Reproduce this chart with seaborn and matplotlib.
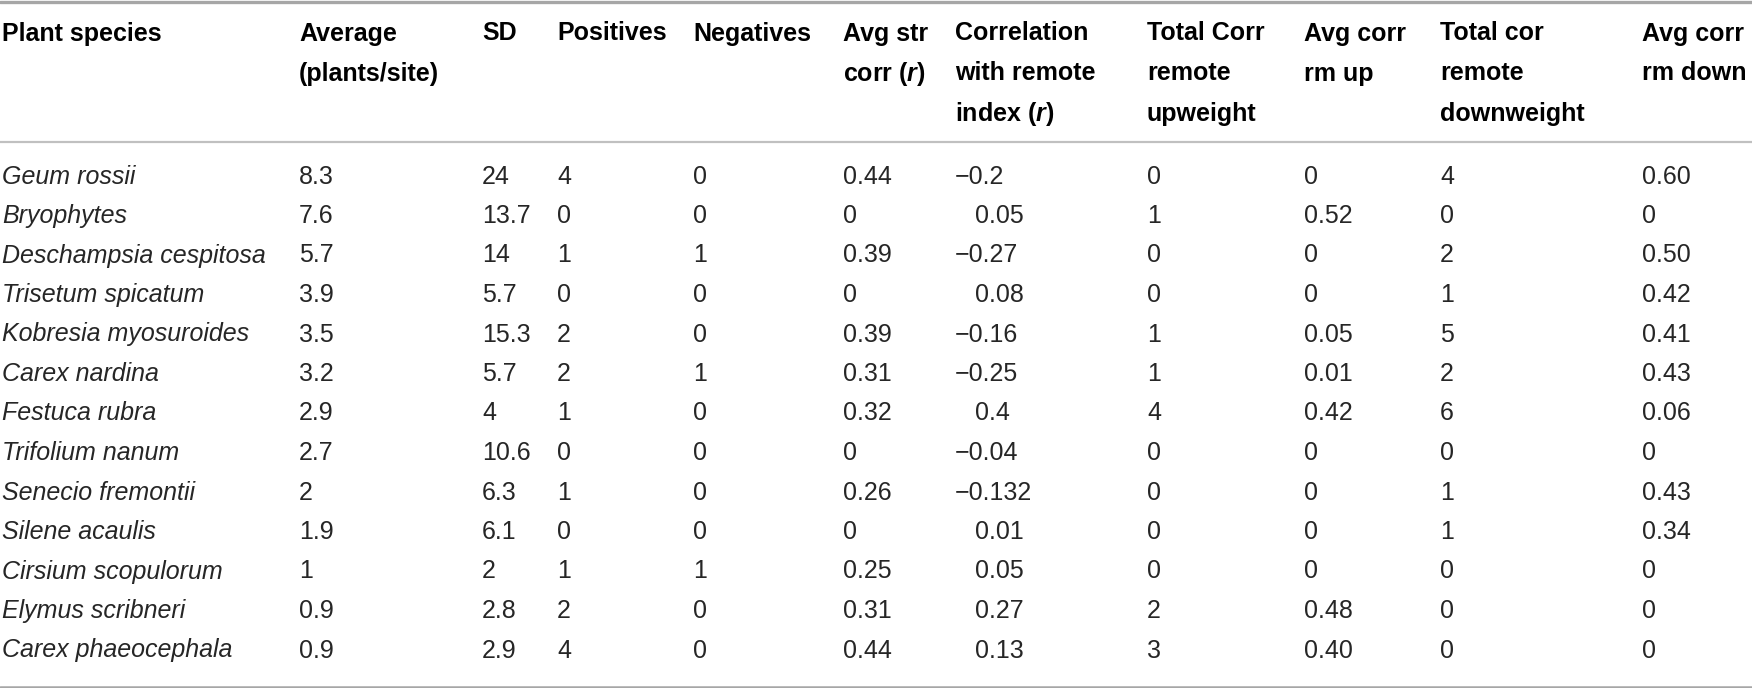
import matplotlib
matplotlib.use("Agg")
import matplotlib.pyplot as plt
import seaborn as sns

# table content
species = ["Geum rossii", "Bryophytes", "Deschampsia cespitosa", "Trisetum spicatum",
           "Kobresia myosuroides", "Carex nardina", "Festuca rubra", "Trifolium nanum",
           "Senecio fremontii", "Silene acaulis", "Cirsium scopulorum", "Elymus scribneri",
           "Carex phaeocephala"]
average = ["8.3", "7.6", "5.7", "3.9", "3.5", "3.2", "2.9", "2.7", "2", "1.9", "1", "0.9", "0.9"]
sd = ["24", "13.7", "14", "5.7", "15.3", "5.7", "4", "10.6", "6.3", "6.1", "2", "2.8", "2.9"]
positives = [4, 0, 1, 0, 2, 2, 1, 0, 1, 0, 1, 2, 4]
negatives = [0, 0, 1, 0, 0, 1, 0, 0, 0, 0, 1, 0, 0]
avg_str_corr = ["0.44", "0", "0.39", "0", "0.39", "0.31", "0.32", "0", "0.26", "0", "0.25", "0.31", "0.44"]
corr_remote = ["\u22120.2", "0.05", "\u22120.27", "0.08", "\u22120.16", "\u22120.25", "0.4",
               "\u22120.04", "\u22120.132", "0.01", "0.05", "0.27", "0.13"]
total_up = [0, 1, 0, 0, 1, 1, 4, 0, 0, 0, 0, 2, 3]
avg_up = ["0", "0.52", "0", "0", "0.05", "0.01", "0.42", "0", "0", "0", "0", "0.48", "0.40"]
total_down = [4, 0, 2, 1, 5, 2, 6, 0, 1, 1, 0, 0, 0]
avg_down = ["0.60", "0", "0.50", "0.42", "0.41", "0.43", "0.06", "0", "0.43", "0.34", "0", "0", "0"]

headers = [["Plant species"],
           ["Average", "(plants/site)"],
           ["SD"],
           ["Positives"],
           ["Negatives"],
           ["Avg str", r"corr ($\mathit{r}$)"],
           ["Correlation", "with remote", r"index ($\mathit{r}$)"],
           ["Total Corr", "remote", "upweight"],
           ["Avg corr", "rm up"],
           ["Total cor", "remote", "downweight"],
           ["Avg corr", "rm down"]]

columns = [species, average, sd, positives, negatives, avg_str_corr, corr_remote,
           total_up, avg_up, total_down, avg_down]

sns.set_theme(style="white")
plt.rcParams["font.family"] = ["Liberation Sans", "DejaVu Sans"]
plt.rcParams["mathtext.fontset"] = "custom"
plt.rcParams["mathtext.it"] = "Liberation Sans:italic:bold"
plt.rcParams["mathtext.rm"] = "Liberation Sans:bold"

W, H = 1752, 688
fig = plt.figure(figsize=(W / 100, H / 100), dpi=100)
ax = fig.add_axes([0, 0, 1, 1])
ax.set_xlim(0, W)
ax.set_ylim(H, 0)
ax.axis("off")

col_x = [2, 299, 482, 557, 693, 843, 955, 1147, 1304, 1440, 1642]
minus_pad = 20  # non-negative correlations are indented past the minus sign

# rules
ax.axhline(1.5, color="#a6a6a6", lw=2.4)
ax.axhline(142, color="#c0c0c0", lw=1.6)
ax.axhline(686.5, color="#a6a6a6", lw=1.8)

# header
for x, lines in zip(col_x, headers):
    for j, line in enumerate(lines):
        ax.text(x, 40.5 + 40 * j, line, fontsize=18, fontweight="bold",
                color="black", va="baseline", ha="left")

# body
for c, (x, values) in enumerate(zip(col_x, columns)):
    for i, v in enumerate(values):
        y = 183.5 + 39.5 * i
        s = str(v)
        xx = x
        if c == 6 and not s.startswith("\u2212"):
            xx = x + minus_pad
        ax.text(xx, y, s, fontsize=18, fontstyle="italic" if c == 0 else "normal",
                color="#262626", va="baseline", ha="left")

fig.savefig("out.png", dpi=100)
plt.close(fig)
